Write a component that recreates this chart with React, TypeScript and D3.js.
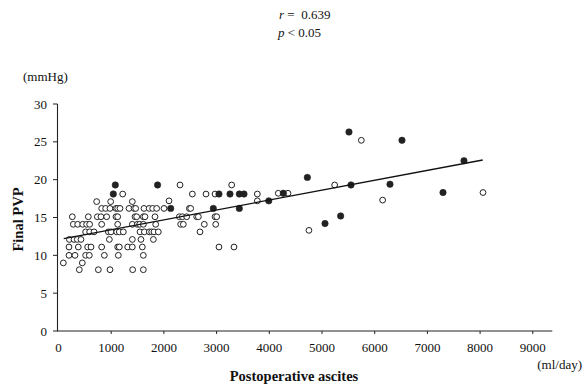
import React from 'react';
import * as d3 from 'd3';

// ascites (ml/day), final PVP (mmHg) - open circles
const openX = [
  724, 990, 1401,
  819, 895, 977, 1091, 1123, 1167, 1338, 1433, 1464, 1622, 1720, 1787, 1863,
  262, 566, 737, 806, 914, 1091, 1123, 1452, 1483, 1610, 1641, 1831,
  281, 364, 459, 534, 591, 819, 1123, 1401, 1496, 1540, 1610, 1844,
  515, 591, 674, 946, 996, 1104, 1154, 1230, 1547, 1629, 1724, 1768, 1812, 1894,
  206, 294, 357, 427, 965, 1401, 1565, 1800,
  199, 376, 553, 617, 819, 1123, 1154, 1313, 1401, 1591,
  199, 313, 515, 585, 870, 1135, 1610,
  92, 452,
  395, 756, 977, 1407, 1610,
  1218,
  2306, 3286,
  2540, 2799, 2970, 3773,
  2097, 3773,
  2002, 2483, 2508,
  2293, 2350, 2432, 2622, 2654, 2970, 3002,
  2318, 2369, 2767, 2983,
  2685,
  3045, 3330,
  4170, 4355, 4752, 5240, 5746, 6151, 8055,
];
const openY = [
  17.1, 17.1, 17.1,
  16.2, 16.2, 16.2, 16.2, 16.2, 16.2, 16.2, 16.2, 16.2, 16.2, 16.2, 16.2, 16.2,
  15.1, 15.1, 15.1, 15.1, 15.1, 15.1, 15.1, 15.1, 15.1, 15.1, 15.1, 15.1,
  14.1, 14.1, 14.1, 14.1, 14.1, 14.1, 14.1, 14.1, 14.1, 14.1, 14.1, 14.1,
  13.1, 13.1, 13.1, 13.1, 13.1, 13.1, 13.1, 13.1, 13.1, 13.1, 13.1, 13.1, 13.1, 13.1,
  12.1, 12.1, 12.1, 12.1, 12.1, 12.1, 12.1, 12.1,
  11.1, 11.1, 11.1, 11.1, 11.1, 11.1, 11.1, 11.1, 11.1, 11.1,
  10.0, 10.0, 10.0, 10.0, 10.0, 10.0, 10.0,
  9.0, 9.0,
  8.1, 8.1, 8.1, 8.1, 8.1,
  18.1,
  19.3, 19.3,
  18.1, 18.1, 18.1, 18.1,
  17.2, 17.2,
  16.2, 16.2, 16.2,
  15.1, 15.1, 15.1, 15.1, 15.1, 15.1, 15.1,
  14.1, 14.1, 14.1, 14.1,
  13.1,
  11.1, 11.1,
  18.2, 18.2, 13.3, 19.3, 25.2, 17.3, 18.3,
];

// filled circles
const filledX = [1078, 1040, 1880, 2129, 2938, 3431, 3045, 3254, 3431, 3520, 3990, 4266, 4722, 5057, 5354, 5512, 5550, 6290, 6518, 7296, 7694];
const filledY = [19.3, 18.1, 19.3, 16.2, 16.2, 16.2, 18.1, 18.1, 18.1, 18.1, 17.2, 18.2, 20.3, 14.2, 15.2, 26.3, 19.3, 19.4, 25.2, 18.3, 22.5];

// regression line end points
const fitX = [100, 8050];
const fitY = [12.2, 22.6];

const xTicks = [0, 1000, 2000, 3000, 4000, 5000, 6000, 7000, 8000, 9000];
const yTicks = [0, 5, 10, 15, 20, 25, 30];

const W = 583, H = 384;
const font = '"Liberation Serif", "DejaVu Serif", serif';

export default function App() {
  const x = d3.scaleLinear().domain([0, 9000]).range([58.5, 532.8]);
  const y = d3.scaleLinear().domain([0, 30]).range([331, 104]);
  const xEnd = x(9370);

  const fit = d3.line<number>()
    .x(i => x(fitX[i]))
    .y(i => y(fitY[i]));

  return (
    <svg width={W} height={H} style={{ position: 'absolute', left: 0, top: 0, background: '#fff' }} fontFamily={font}>
      {/* stats */}
      <text x={279} y={19} fontSize={13} fill="#111" xmlSpace="preserve">
        <tspan fontStyle="italic">r</tspan>{' =  0.639'}
      </text>
      <text x={278} y={37} fontSize={13} fill="#111">
        <tspan fontStyle="italic">p</tspan> &lt; 0.05
      </text>

      {/* y axis */}
      <text x={23} y={81} fontSize={13} fill="#111">(mmHg)</text>
      <line x1={57.5} x2={57.5} y1={y(30)} y2={y(0)} stroke="#222" strokeWidth={1.1} />
      {yTicks.map(t => (
        <g key={t}>
          <line x1={53} x2={57.5} y1={y(t)} y2={y(t)} stroke="#222" strokeWidth={1} />
          <text x={47} y={y(t) + 4.5} fontSize={13} textAnchor="end" fill="#111">{t}</text>
        </g>
      ))}
      <text transform={`translate(23,${(y(0) + y(30)) / 2 + 2}) rotate(-90)`} fontSize={14.5} fontWeight="bold" textAnchor="middle" fill="#111">Final PVP</text>

      {/* x axis */}
      <line x1={57} x2={xEnd} y1={y(0)} y2={y(0)} stroke="#222" strokeWidth={1.1} />
      {xTicks.map(t => (
        <g key={t}>
          {t > 0 && <line x1={x(t)} x2={x(t)} y1={y(0)} y2={y(0) + 3} stroke="#222" strokeWidth={1} />}
          <text x={x(t)} y={352} fontSize={13} textAnchor="middle" fill="#111">{t}</text>
        </g>
      ))}
      <text x={582} y={369} fontSize={13} textAnchor="end" fill="#111">(ml/day)</text>
      <text x={294} y={381} fontSize={14.5} fontWeight="bold" textAnchor="middle" fill="#111">Postoperative ascites</text>

      {/* points */}
      {openX.map((v, i) => (
        <circle key={'o' + i} cx={x(v)} cy={y(openY[i])} r={2.9} fill="#fff" stroke="#222" strokeWidth={1} />
      ))}
      {filledX.map((v, i) => (
        <circle key={'f' + i} cx={x(v)} cy={y(filledY[i])} r={3.2} fill="#222" stroke="#222" strokeWidth={0.6} />
      ))}

      {/* regression */}
      <path d={fit([0, 1]) || ''} fill="none" stroke="#111" strokeWidth={1.3} />
    </svg>
  );
}
